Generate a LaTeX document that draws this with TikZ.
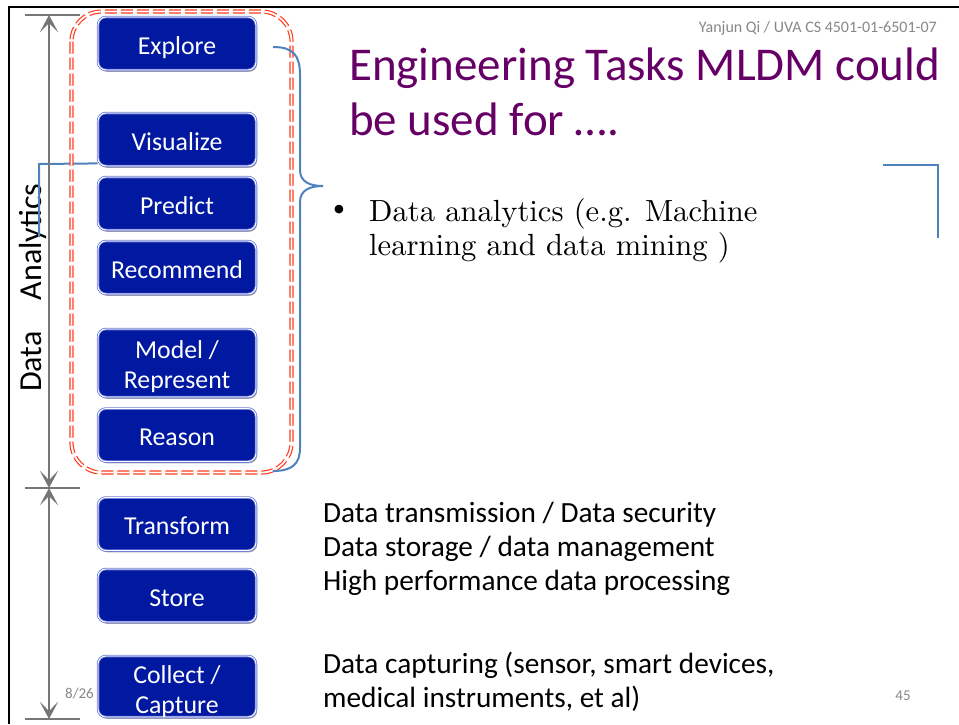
\documentclass[tikz,border=0pt]{standalone}
\usepackage{fontspec}
\newfontfamily\carl{Carlito}
\newfontfamily\lmten{lmroman10-regular.otf}
\usetikzlibrary{shadows,arrows.meta}
\definecolor{taskblue}{RGB}{0,25,160}
\definecolor{taskrim}{RGB}{110,125,215}
\definecolor{titlepurple}{RGB}{102,0,102}
\definecolor{bracecol}{RGB}{79,129,189}
\definecolor{dimgray}{RGB}{118,118,118}
\definecolor{groupred}{RGB}{255,60,30}
\definecolor{footgray}{RGB}{135,135,135}
\begin{document}
\begin{tikzpicture}[x=1pt,y=-1pt,
  task/.style={draw=taskrim, line width=0.8pt, double=white, double distance=0.9pt,
    fill=taskblue, rounded corners=8pt, minimum width=158pt, minimum height=53pt,
    inner sep=0pt, text=white, align=center, text height=21pt, text depth=0pt,
    font=\carl\fontsize{25.8}{30}\selectfont,
    drop shadow={shadow xshift=1.2pt, shadow yshift=-1.8pt, opacity=0.35, fill=black}},
  plain/.style={inner sep=0pt, align=left},
  dimbar/.style={dimgray, line width=2.6pt},
  dimarrow/.style={dimgray, line width=2.6pt,
    {Stealth[length=17pt,width=18pt,inset=9pt]}-{Stealth[length=17pt,width=18pt,inset=9pt]}},
  bluepen/.style={bracecol, line width=2pt}]
\useasboundingbox (0,0) rectangle (959,724);

% slide frame
\draw[line width=2pt] (959,7) -- (9,7) -- (9,724);

% header, title and footer
\node[plain, anchor=base east, text=footgray, font=\carl\fontsize{16}{18}\selectfont]
  (hdr) at (937,32) {Yanjun Qi / UVA CS 4501-01-6501-07};
\node[plain, anchor=base west, text=titlepurple, font=\carl\fontsize{47}{55}\selectfont]
  (title) at (349,135) {Engineering Tasks MLDM could\\be used for ….};
\node[plain, anchor=base west, text=footgray, font=\carl\fontsize{15}{18}\selectfont]
  (date) at (65,698) {8/26};
\node[plain, anchor=base, text=footgray, font=\carl\fontsize{15}{18}\selectfont]
  (pagenum) at (903,700) {45};

% bullet on the right
\node[plain, font=\lmten\fontsize{30}{30}\selectfont] (dot) at (339,211) {•};
\node[plain, anchor=base west, font=\lmten\fontsize{30.6}{34}\selectfont]
  (bullet) at (369,255) {Data analytics (e.g. Machine\\learning and data mining )};

% descriptions of the lower layers
\node[plain, anchor=base west, font=\carl\fontsize{29.3}{33.7}\selectfont]
  (infra) at (323,590) {Data transmission / Data security\\Data storage / data management\\High performance data processing};
\node[plain, anchor=base west, font=\carl\fontsize{29.3}{34}\selectfont]
  (capt) at (323,707) {Data capturing (sensor, smart devices,\\medical instruments, et al)};

% vertical label
\node[plain, rotate=90, anchor=base west, font=\carl\fontsize{32}{32}\selectfont]
  (side) at (41,392) {Data\hspace{24pt} Analytics};

% blue corner at the top right
\coordinate (cA) at (883,165);
\coordinate (cB) at (938,165);
\coordinate (cC) at (938,238);
\draw[bluepen] (cA) -- (cB) -- (cC);

% task boxes
\node[task] (explore) at (177,43.5) {Explore};
\node[task] (vis) at (177,139.5) {Visualize};
\node[task] (predict) at (177,203.5) {Predict};
\node[task] (recommend) at (177,267.5) {Recommend};
\node[task, minimum height=68pt, text height=50pt] (model) at (177,363) {Model /\\Represent};
\node[task] (reason) at (177,435) {Reason};
\node[task] (transform) at (177,524) {Transform};
\node[task] (store) at (177,595.5) {Store};
\node[task, minimum height=61pt, text height=53pt] (collect) at (177,686.5) {Collect /\\Capture};

% blue leader from Visualize
\coordinate (visA) at ([yshift=3pt]vis.south west);
\coordinate (visB) at (39,164);
\coordinate (visC) at (39,237);
\draw[bluepen] (visA) -- (visB) -- (visC);

% dimension arrows
\coordinate (dTop) at (49,15);
\coordinate (dMid) at (49,488);
\coordinate (dBot) at (49,719);
\foreach \c in {dTop,dMid,dBot}
  \draw[dimbar] ([xshift=-24pt]\c) -- ([xshift=31pt]\c);
\draw[dimarrow] (dTop) -- (dMid);
\draw[dimarrow] (dMid) -- (dBot);

% dashed group around the analytics tasks
\draw[groupred, line width=1.2pt, double=white, double distance=1.8pt,
      dash pattern=on 12pt off 4pt, rounded corners=30pt]
  (71.5,11.5) rectangle (291.5,472.5);

% brace
\coordinate (bTop) at (273,47);
\coordinate (bTip) at (323,186);
\coordinate (bBot) at (273,471);
\draw[bluepen] (bTop) .. controls (293,47) and (300,55) .. (300,75) -- (300,170)
  .. controls (300,182) and (310,186) .. (bTip)
  .. controls (310,186) and (300,190) .. (300,202) -- (300,448)
  .. controls (300,464) and (292,471) .. (bBot);
\end{tikzpicture}
\end{document}
